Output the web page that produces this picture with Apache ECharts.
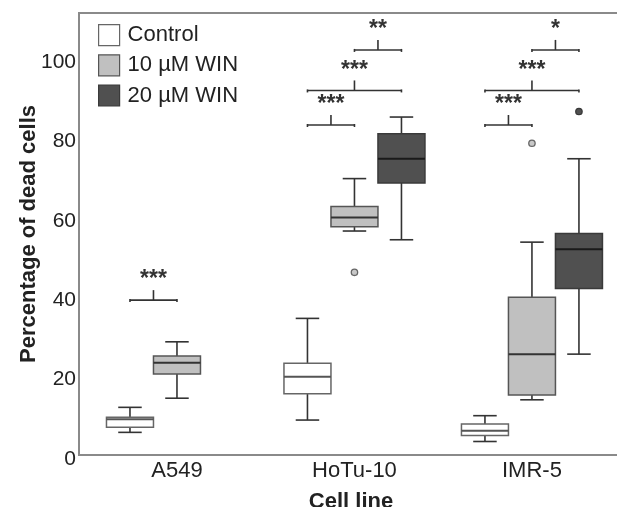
<!DOCTYPE html>
<html>
<head>
<meta charset="utf-8">
<script src="https://cdn.jsdelivr.net/npm/echarts@6/dist/echarts.min.js"></script>
<style>html,body{margin:0;padding:0;background:#fff}#c{width:617px;height:507px}</style>
</head>
<body>
<div id="c"></div>
<script>
// ---- data ----
const categories = ['A549', 'HoTu-10', 'IMR-5'];
const seriesNames = ['Control', '10 µM WIN', '20 µM WIN'];
// [min, Q1, median, Q3, max] per cell line
const controlBox = [[5.7, 7.0, 9.0, 9.5, 12.0], [8.8, 15.4, 19.7, 23.1, 34.4], [3.4, 4.9, 6.1, 7.8, 9.9]];
const win10Box = [[14.3, 20.4, 23.2, 24.9, 28.5], [56.4, 57.5, 59.8, 62.6, 69.6], [13.9, 15.1, 25.4, 39.7, 53.6]];
const win20Box = [null, [54.2, 68.5, 74.6, 80.9, 85.1], [25.4, 41.9, 51.8, 55.8, 74.6]];
// outliers: [cell line index, value]
const win10Outliers = [[1, 46.0], [2, 78.5]];
const win20Outliers = [[2, 86.5]];
// significance brackets: [cell line index, group from, group to, level]
const brackets = [[0, 0, 1, 39.0], [1, 0, 1, 83.1], [1, 0, 2, 91.8], [1, 1, 2, 102.0], [2, 0, 1, 83.1], [2, 0, 2, 91.8], [2, 1, 2, 102.0]];
const bracketLabels = ['***', '***', '***', '**', '***', '***', '*'];
const yTicks = [0, 20, 40, 60, 80, 100];

// ---- layout / style ----
const BOX_STEP = 0.2648;
const FONT = "'Liberation Sans', Arial, sans-serif";
const styles = [
  { fill: '#ffffff', stroke: '#666666', median: '#555555' },
  { fill: '#c0c0c0', stroke: '#555555', median: '#333333' },
  { fill: '#505050', stroke: '#3a3a3a', median: '#1a1a1a' }
];

function boxData(arr) {
  const out = [];
  arr.forEach((v, i) => { if (v) out.push([i].concat(v)); });
  return out;
}

function boxRender(si) {
  return function (params, api) {
    const x = api.value(0) + (si - 1) * BOX_STEP;
    const w = api.size([BOX_STEP, 0])[0];
    const pMin = api.coord([x, api.value(1)]);
    const pQ1 = api.coord([x, api.value(2)]);
    const pMed = api.coord([x, api.value(3)]);
    const pQ3 = api.coord([x, api.value(4)]);
    const pMax = api.coord([x, api.value(5)]);
    const cx = pMed[0], hw = w / 2, cw = w / 4;
    const st = styles[si];
    const wl = { stroke: '#333333', lineWidth: 1.6 };
    return {
      type: 'group',
      children: [
        { type: 'line', shape: { x1: cx, y1: pQ3[1], x2: cx, y2: pMax[1] }, style: wl },
        { type: 'line', shape: { x1: cx - cw, y1: pMax[1], x2: cx + cw, y2: pMax[1] }, style: wl },
        { type: 'line', shape: { x1: cx, y1: pQ1[1], x2: cx, y2: pMin[1] }, style: wl },
        { type: 'line', shape: { x1: cx - cw, y1: pMin[1], x2: cx + cw, y2: pMin[1] }, style: wl },
        { type: 'rect', shape: { x: cx - hw, y: pQ3[1], width: w, height: pQ1[1] - pQ3[1] },
          style: { fill: st.fill, stroke: st.stroke, lineWidth: 1.5 } },
        { type: 'line', shape: { x1: cx - hw, y1: pMed[1], x2: cx + hw, y2: pMed[1] },
          style: { stroke: st.median, lineWidth: 2 } }
      ]
    };
  };
}

function outlierRender(si, fill, stroke) {
  return function (params, api) {
    const p = api.coord([api.value(0) + (si - 1) * BOX_STEP, api.value(1)]);
    return { type: 'circle', shape: { cx: p[0], cy: p[1], r: 3.2 }, style: { fill: fill, stroke: stroke, lineWidth: 1.3 } };
  };
}

function bracketRender(params, api) {
  const cat = api.value(0);
  const lv = api.value(3);
  const p1 = api.coord([cat + (api.value(1) - 1) * BOX_STEP, lv]);
  const p2 = api.coord([cat + (api.value(2) - 1) * BOX_STEP, lv]);
  const mx = (p1[0] + p2[0]) / 2;
  const ls = { stroke: '#333333', lineWidth: 1.6 };
  return {
    type: 'group',
    children: [
      { type: 'line', shape: { x1: p1[0], y1: p1[1], x2: p2[0], y2: p2[1] }, style: ls },
      { type: 'line', shape: { x1: p1[0], y1: p1[1] - 1, x2: p1[0], y2: p1[1] + 2 }, style: ls },
      { type: 'line', shape: { x1: p2[0], y1: p2[1] - 1, x2: p2[0], y2: p2[1] + 2 }, style: ls },
      { type: 'line', shape: { x1: mx, y1: p1[1], x2: mx, y2: p1[1] - 10 }, style: ls },
      { type: 'text', style: { text: bracketLabels[params.dataIndex], x: mx, y: p1[1] - 20,
          align: 'center', verticalAlign: 'middle', font: 'bold 23px ' + FONT, fill: '#333333' } }
    ]
  };
}

const chart = echarts.init(document.getElementById('c'), null, { renderer: 'canvas' });
chart.setOption({
  animation: false,
  backgroundColor: '#ffffff',
  textStyle: { fontFamily: FONT },
  grid: { left: 79, right: -6, top: 13, bottom: 52, show: true, borderColor: '#8a8a8a', borderWidth: 2,
          backgroundColor: 'transparent', containLabel: false, outerBoundsMode: 'none' },
  legend: {
    orient: 'vertical', left: 98, top: 24, padding: 0, itemWidth: 21, itemHeight: 21, itemGap: 8,
    icon: 'rect',
    textStyle: { fontSize: 22, color: '#222222', fontFamily: FONT, padding: [0, 0, 0, 3] },
    data: seriesNames.map((n, i) => ({ name: n, itemStyle: { color: styles[i].fill, borderColor: styles[i].stroke, borderWidth: 1.2 } }))
  },
  xAxis: {
    type: 'value', min: -0.552, max: 2.513,
    name: 'Cell line', nameLocation: 'middle', nameGap: 36, nameMoveOverlap: false,
    nameTextStyle: { fontSize: 22, fontWeight: 'bold', color: '#222222', fontFamily: FONT },
    axisLine: { show: false }, axisTick: { show: false }, splitLine: { show: false },
    axisLabel: { customValues: [0, 1, 2], formatter: v => categories[Math.round(v)] || '', fontSize: 22, color: '#222222', margin: 5, fontFamily: FONT }
  },
  yAxis: {
    type: 'value', min: 0, max: 111.3, interval: 20,
    name: 'Percentage of dead cells', nameLocation: 'middle', nameGap: 39, nameMoveOverlap: false,
    nameTextStyle: { fontSize: 22, fontWeight: 'bold', color: '#222222', fontFamily: FONT },
    axisLine: { show: false }, axisTick: { show: false }, splitLine: { show: false },
    axisLabel: { customValues: yTicks, fontSize: 21, color: '#222222', margin: 3, verticalAlign: 'top', lineHeight: 8, fontFamily: FONT }
  },
  series: [
    { name: seriesNames[0], type: 'custom', renderItem: boxRender(0), data: boxData(controlBox), itemStyle: { color: styles[0].fill }, encode: { x: 0, y: [1, 2, 3, 4, 5] } },
    { name: seriesNames[1], type: 'custom', renderItem: boxRender(1), data: boxData(win10Box), itemStyle: { color: styles[1].fill }, encode: { x: 0, y: [1, 2, 3, 4, 5] } },
    { name: seriesNames[2], type: 'custom', renderItem: boxRender(2), data: boxData(win20Box), itemStyle: { color: styles[2].fill }, encode: { x: 0, y: [1, 2, 3, 4, 5] } },
    { name: 'out10', type: 'custom', renderItem: outlierRender(1, '#c8c8c8', '#666666'), data: win10Outliers, encode: { x: 0, y: 1 } },
    { name: 'out20', type: 'custom', renderItem: outlierRender(2, '#505050', '#3a3a3a'), data: win20Outliers, encode: { x: 0, y: 1 } },
    { name: 'sig', type: 'custom', renderItem: bracketRender, data: brackets, encode: { x: 0, y: 3 } }
  ]
});
</script>
</body>
</html>
